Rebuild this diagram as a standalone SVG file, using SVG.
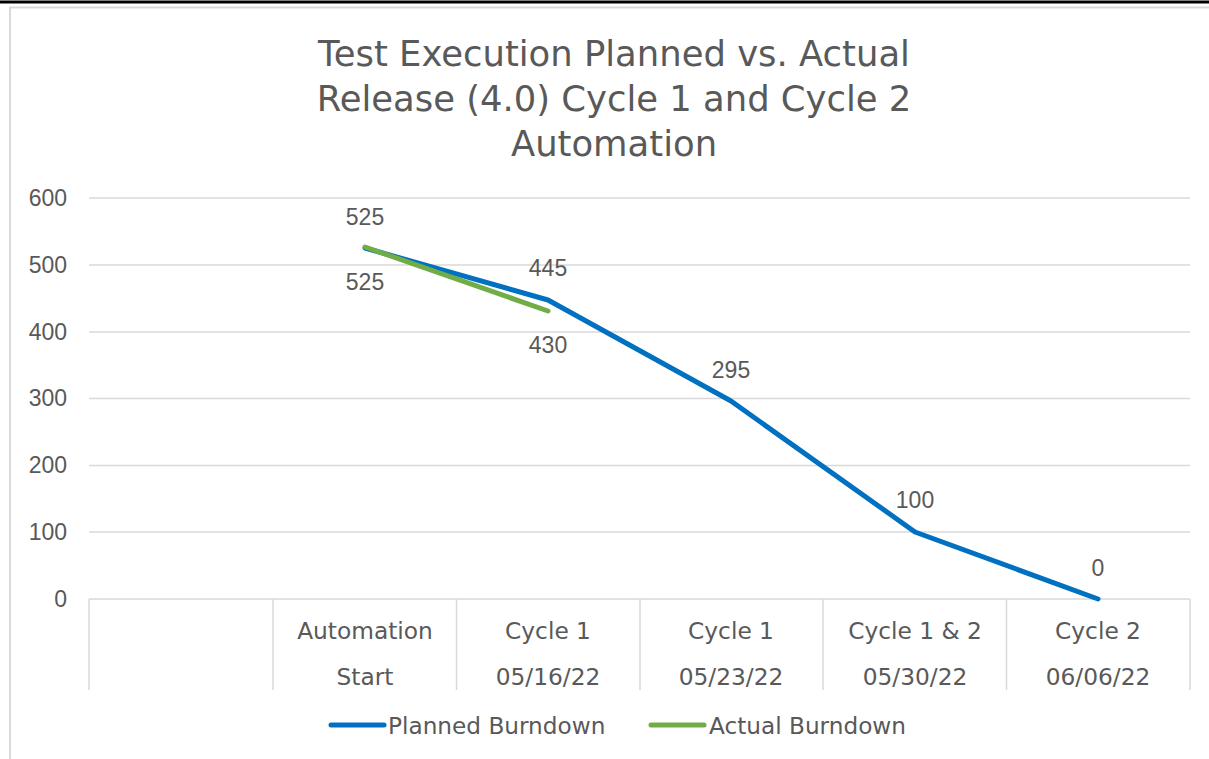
<svg xmlns="http://www.w3.org/2000/svg" width="1209" height="759" viewBox="0 0 1209 759">
<style>
text{font-family:"DejaVu Sans","Liberation Sans",sans-serif;fill:#595959}
.t{font-size:35.4px;text-anchor:middle}
.ax{font-family:"Liberation Sans",Arial,sans-serif;font-size:23px;text-anchor:end}
.cat{font-size:23.3px;text-anchor:middle}
.dl{font-family:"Liberation Sans",Arial,sans-serif;font-size:23px;text-anchor:middle}
.lg{font-size:23.2px}
.grid{stroke:#D9D9D9;stroke-width:1.5;fill:none}
.planned{stroke:#0070C0;stroke-width:5;fill:none;stroke-linejoin:round;stroke-linecap:round}
.actual{stroke:#70AD47;stroke-width:5;fill:none;stroke-linejoin:round;stroke-linecap:round}
</style>
<rect x="0" y="0" width="1209" height="759" fill="#fff"/>
<line x1="0" y1="2" x2="1209" y2="2" stroke="#000" stroke-width="3"/>
<path d="M1209 7.5H10V759" fill="none" stroke="#D9D9D9" stroke-width="2"/>
<g id="title">
<text class="t" x="614" y="66">Test Execution Planned vs. Actual</text>
<text class="t" x="614" y="111">Release (4.0) Cycle 1 and Cycle 2</text>
<text class="t" x="614" y="156">Automation</text>
</g>
<g id="gridlines">
<line class="grid" x1="89" y1="198" x2="1190" y2="198"/>
<line class="grid" x1="89" y1="265" x2="1190" y2="265"/>
<line class="grid" x1="89" y1="332" x2="1190" y2="332"/>
<line class="grid" x1="89" y1="398.5" x2="1190" y2="398.5"/>
<line class="grid" x1="89" y1="465.5" x2="1190" y2="465.5"/>
<line class="grid" x1="89" y1="532" x2="1190" y2="532"/>
<line class="grid" x1="89" y1="599" x2="1190" y2="599"/>
<path class="grid" d="M89 599V690M273 599V690M456.5 599V690M640 599V690M823 599V690M1006.5 599V690M1190 599V690"/>
</g>
<g id="y-axis">
<text class="ax" x="67" y="206">600</text>
<text class="ax" x="67" y="273">500</text>
<text class="ax" x="67" y="340">400</text>
<text class="ax" x="67" y="406">300</text>
<text class="ax" x="67" y="473">200</text>
<text class="ax" x="67" y="540">100</text>
<text class="ax" x="67" y="607">0</text>
</g>
<g id="x-axis">
<text class="cat" x="365" y="639">Automation</text>
<text class="cat" x="365" y="685">Start</text>
<text class="cat" x="548" y="639">Cycle 1</text>
<text class="cat" x="548" y="685">05/16/22</text>
<text class="cat" x="731" y="639">Cycle 1</text>
<text class="cat" x="731" y="685">05/23/22</text>
<text class="cat" x="915" y="639">Cycle 1 &amp; 2</text>
<text class="cat" x="915" y="685">05/30/22</text>
<text class="cat" x="1098" y="639">Cycle 2</text>
<text class="cat" x="1098" y="685">06/06/22</text>
</g>
<g id="connectors">
<polyline id="planned-burndown" class="planned" points="365,248 548,300 731,401 915,532 1098,599"/>
<polyline id="actual-burndown" class="actual" points="365,247 548,311"/>
</g>
<g id="data-labels">
<text class="dl" x="365" y="225">525</text>
<text class="dl" x="365" y="290">525</text>
<text class="dl" x="548" y="276">445</text>
<text class="dl" x="548" y="353">430</text>
<text class="dl" x="731" y="378">295</text>
<text class="dl" x="915" y="508">100</text>
<text class="dl" x="1098" y="576">0</text>
</g>
<g id="legend">
<line class="planned" x1="331" y1="725" x2="384" y2="725"/>
<text class="lg" x="388" y="734">Planned Burndown</text>
<line class="actual" x1="651" y1="725" x2="704" y2="725"/>
<text class="lg" x="709" y="734">Actual Burndown</text>
</g>
</svg>
